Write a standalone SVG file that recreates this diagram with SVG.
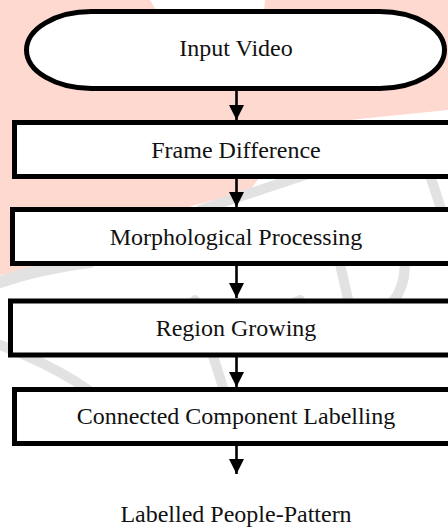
<svg xmlns="http://www.w3.org/2000/svg" width="448" height="530" viewBox="0 0 448 530">
  <defs>
    <style>
      .box { fill: #ffffff; stroke: #000000; stroke-width: 5; }
      .lbl { font-family: "Liberation Serif", "Times New Roman", serif; font-size: 24px; fill: #111111; text-anchor: middle; }
      .conn { stroke: #000000; stroke-width: 2.6; fill: none; }
      .wm-pink { fill: #fdd9d0; }
      .wm-gray { fill: none; stroke: #e2e2e2; stroke-linecap: round; }
    </style>
    <marker id="arrow" markerUnits="userSpaceOnUse" markerWidth="16" markerHeight="15" refX="15" refY="7.5" orient="auto">
      <path d="M0,0 L15,7.5 L0,15 Z" fill="#000000"/>
    </marker>
  </defs>

  <rect x="0" y="0" width="448" height="530" fill="#ffffff"/>

  <g id="watermark">
    <path class="wm-pink" d="M0,0 L150,0 L175,40 L260,60 L265,0 L448,0 L448,110 L300,125 L250,190 L160,215 L110,250 L60,268 L0,275 Z"/>
    <path class="wm-gray" stroke-width="12" d="M0,282 Q40,268 90,262"/>
    <path class="wm-gray" stroke-width="10" d="M200,210 L320,170"/>
    <path class="wm-gray" stroke-width="10" d="M425,160 L448,230"/>
    <path class="wm-gray" stroke-width="10" d="M195,300 L240,440"/>
    <path class="wm-gray" stroke-width="10" d="M240,330 L300,300"/>
    <path class="wm-gray" stroke-width="10" d="M330,220 L355,330 Q420,300 400,240"/>
    <path class="wm-gray" stroke-width="10" d="M0,345 Q90,380 120,420"/>
  </g>

  <g id="connectors">
    <line class="conn" x1="236.5" y1="90" x2="236.5" y2="120" marker-end="url(#arrow)"/>
    <line class="conn" x1="236.5" y1="178" x2="236.5" y2="207" marker-end="url(#arrow)"/>
    <line class="conn" x1="236.5" y1="265" x2="236.5" y2="298" marker-end="url(#arrow)"/>
    <line class="conn" x1="236.5" y1="356" x2="236.5" y2="387" marker-end="url(#arrow)"/>
    <line class="conn" x1="236.5" y1="445" x2="236.5" y2="474" marker-end="url(#arrow)"/>
  </g>

  <g id="input-video">
    <rect class="box" x="26.5" y="11.5" width="418" height="77" rx="65" ry="38.5"/>
    <text class="lbl" x="236" y="56">Input Video</text>
  </g>

  <g id="frame-difference">
    <rect class="box" x="14.5" y="122.5" width="460" height="54"/>
    <text class="lbl" x="236" y="158">Frame Difference</text>
  </g>

  <g id="morphological-processing">
    <rect class="box" x="12.5" y="209.5" width="460" height="54"/>
    <text class="lbl" x="236" y="245">Morphological Processing</text>
  </g>

  <g id="region-growing">
    <rect class="box" x="10.5" y="301" width="460" height="54"/>
    <text class="lbl" x="236" y="336">Region Growing</text>
  </g>

  <g id="connected-component-labelling">
    <rect class="box" x="14.5" y="389.5" width="460" height="54"/>
    <text class="lbl" x="236" y="424">Connected Component Labelling</text>
  </g>

  <g id="labelled-people-pattern">
    <text class="lbl" x="236" y="522">Labelled People-Pattern</text>
  </g>
</svg>
